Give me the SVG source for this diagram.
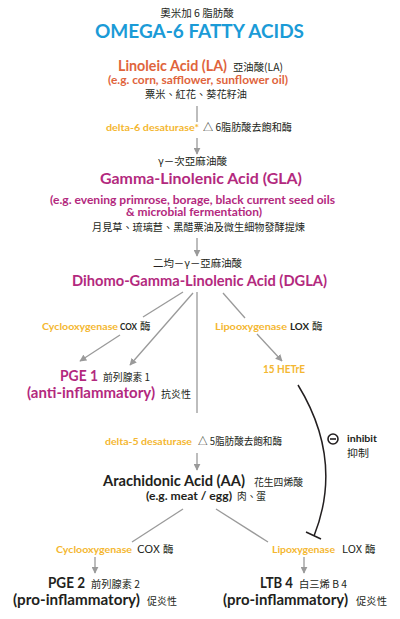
<svg xmlns="http://www.w3.org/2000/svg" width="400" height="619" viewBox="0 0 400 619">
<defs>
<style>
.en{font-family:Lato,"Open Sans",sans-serif;font-weight:700}
.cj{font-family:"Noto Sans CJK TC","Noto Sans",sans-serif;font-size:10.5px;fill:#231f20}
.blue{fill:#1b9bd7}.org{fill:#e0643c}.yel{fill:#f4b731}.mag{fill:#b3297e}.blk{fill:#231f20}
.ln{stroke:#9a9a9a;stroke-width:1.3;fill:none}
</style>
<marker id="ah" viewBox="0 0 10 10" refX="9" refY="5" markerWidth="7" markerHeight="7" markerUnits="userSpaceOnUse" orient="auto">
<path d="M0,0 L10,5 L0,10 z" fill="#9a9a9a"/>
</marker>
</defs>
<rect width="400" height="619" fill="#fff"/>

<g id="title">
<text class="cj" x="197" y="17" text-anchor="middle" font-size="11">奧米加 6 脂肪酸</text>
<text class="en blue" x="95" y="38" font-size="18.5" textLength="209" lengthAdjust="spacingAndGlyphs">OMEGA-6 FATTY ACIDS</text>
</g>

<g id="la">
<text class="en org" x="118" y="71" font-size="15" textLength="109" lengthAdjust="spacingAndGlyphs">Linoleic Acid (LA)</text>
<text class="cj" x="233" y="71" font-size="10.5" textLength="50" lengthAdjust="spacingAndGlyphs">亞油酸(LA)</text>
<text class="en org" x="108" y="84" font-size="11.5" textLength="180" lengthAdjust="spacingAndGlyphs">(e.g. corn, safflower, sunflower oil)</text>
<text class="cj" x="145" y="98" textLength="102" lengthAdjust="spacingAndGlyphs">粟米、紅花、葵花籽油</text>
</g>

<g id="d6">
<text class="en yel" x="106" y="131" font-size="10" textLength="93" lengthAdjust="spacingAndGlyphs">delta-6 desaturase*</text>
<text class="cj" x="203" y="131" textLength="89" lengthAdjust="spacingAndGlyphs">△ 6脂肪酸去飽和酶</text>
</g>

<g id="gla">
<text class="cj" x="158" y="165" textLength="69" lengthAdjust="spacingAndGlyphs">γ－次亞麻油酸</text>
<text class="en mag" x="100" y="184" font-size="16" textLength="202" lengthAdjust="spacingAndGlyphs">Gamma-Linolenic Acid (GLA)</text>
<text class="en mag" x="50" y="204" font-size="11.5" textLength="285" lengthAdjust="spacingAndGlyphs">(e.g. evening primrose, borage, black current seed oils</text>
<text class="en mag" x="126" y="216" font-size="11.5" textLength="136" lengthAdjust="spacingAndGlyphs">&amp; microbial fermentation)</text>
<text class="cj" x="92" y="231" textLength="213" lengthAdjust="spacingAndGlyphs">月見草、琉璃苣、黑醋粟油及微生細物發酵提煉</text>
</g>

<g id="dgla">
<text class="cj" x="153" y="267" textLength="89" lengthAdjust="spacingAndGlyphs">二均－γ－亞麻油酸</text>
<text class="en mag" x="72" y="286" font-size="16" textLength="255" lengthAdjust="spacingAndGlyphs">Dihomo-Gamma-Linolenic Acid (DGLA)</text>
</g>

<g id="cox1">
<text class="en yel" x="42" y="330" font-size="10" textLength="76" lengthAdjust="spacingAndGlyphs">Cyclooxygenase</text>
<text class="en blk" x="120" y="330" font-size="10" textLength="17" lengthAdjust="spacingAndGlyphs">COX</text>
<text class="cj" x="140" y="330">酶</text>
</g>

<g id="lox1">
<text class="en yel" x="215" y="330" font-size="10" textLength="72" lengthAdjust="spacingAndGlyphs">Lipooxygenase</text>
<text class="en blk" x="290" y="330" font-size="10" textLength="19" lengthAdjust="spacingAndGlyphs">LOX</text>
<text class="cj" x="312" y="330">酶</text>
</g>

<g id="pge1">
<text class="en mag" x="60" y="381" font-size="15.5" textLength="38" lengthAdjust="spacingAndGlyphs">PGE 1</text>
<text class="cj" x="103" y="381" font-size="10" textLength="47" lengthAdjust="spacingAndGlyphs">前列腺素 1</text>
<text class="en mag" x="27" y="398" font-size="15" textLength="128" lengthAdjust="spacingAndGlyphs">(anti-inflammatory)</text>
<text class="cj" x="161" y="398" font-size="10" textLength="30" lengthAdjust="spacingAndGlyphs">抗炎性</text>
</g>

<g id="hetre">
<text class="en yel" x="263" y="373" font-size="10.5" textLength="42" lengthAdjust="spacingAndGlyphs">15 HETrE</text>
</g>

<g id="d5">
<text class="en yel" x="105" y="445" font-size="10" textLength="87" lengthAdjust="spacingAndGlyphs">delta-5 desaturase</text>
<text class="cj" x="198" y="445" textLength="84" lengthAdjust="spacingAndGlyphs">△ 5脂肪酸去飽和酶</text>
</g>

<g id="inhibit">
<circle cx="333" cy="439" r="5" fill="none" stroke="#231f20" stroke-width="1.6"/>
<line x1="330" y1="439" x2="336" y2="439" stroke="#231f20" stroke-width="1.6"/>
<text class="en blk" x="347" y="442" font-size="10" textLength="30" lengthAdjust="spacingAndGlyphs">inhibit</text>
<text class="cj" x="347" y="457" textLength="22" lengthAdjust="spacingAndGlyphs">抑制</text>
</g>

<g id="aa">
<text class="en blk" x="103" y="486" font-size="15.5" textLength="142" lengthAdjust="spacingAndGlyphs">Arachidonic Acid (AA)</text>
<text class="cj" x="254" y="486" textLength="49" lengthAdjust="spacingAndGlyphs">花生四烯酸</text>
<text class="en blk" x="146" y="500" font-size="11.5" textLength="86" lengthAdjust="spacingAndGlyphs">(e.g. meat / egg)</text>
<text class="cj" x="237" y="500" textLength="29" lengthAdjust="spacingAndGlyphs">肉、蛋</text>
</g>

<g id="cox2">
<text class="en yel" x="56" y="553" font-size="10" textLength="76" lengthAdjust="spacingAndGlyphs">Cyclooxygenase</text>
<text class="cj" x="137" y="553" textLength="23" lengthAdjust="spacingAndGlyphs">COX</text>
<text class="cj" x="163" y="553">酶</text>
</g>

<g id="lox2">
<text class="en yel" x="272" y="553" font-size="10" textLength="63" lengthAdjust="spacingAndGlyphs">Lipoxygenase</text>
<text class="cj" x="342" y="553" textLength="20" lengthAdjust="spacingAndGlyphs">LOX</text>
<text class="cj" x="365" y="553">酶</text>
</g>

<g id="pge2">
<text class="en blk" x="48" y="588" font-size="15.5" textLength="37" lengthAdjust="spacingAndGlyphs">PGE 2</text>
<text class="cj" x="91" y="588" font-size="10" textLength="49" lengthAdjust="spacingAndGlyphs">前列腺素 2</text>
<text class="en blk" x="13" y="605" font-size="15" textLength="127" lengthAdjust="spacingAndGlyphs">(pro-inflammatory)</text>
<text class="cj" x="147" y="605" font-size="10" textLength="30" lengthAdjust="spacingAndGlyphs">促炎性</text>
</g>

<g id="ltb4">
<text class="en blk" x="260" y="588" font-size="15.5" textLength="33" lengthAdjust="spacingAndGlyphs">LTB 4</text>
<text class="cj" x="299" y="588" font-size="10" textLength="48" lengthAdjust="spacingAndGlyphs">白三烯 B 4</text>
<text class="en blk" x="223" y="605" font-size="15" textLength="125" lengthAdjust="spacingAndGlyphs">(pro-inflammatory)</text>
<text class="cj" x="356" y="605" font-size="10" textLength="31" lengthAdjust="spacingAndGlyphs">促炎性</text>
</g>

<g id="connectors">
<line class="ln" x1="197" y1="106" x2="197" y2="122"/>
<line class="ln" x1="197" y1="138" x2="197" y2="154" marker-end="url(#ah)"/>
<line class="ln" x1="197" y1="238" x2="197" y2="256" marker-end="url(#ah)"/>
<line class="ln" x1="183" y1="292" x2="143" y2="317"/>
<line class="ln" x1="120" y1="335" x2="80" y2="361" marker-end="url(#ah)"/>
<line class="ln" x1="193" y1="293" x2="130" y2="365" marker-end="url(#ah)"/>
<line class="ln" x1="197" y1="292" x2="197" y2="413"/>
<line class="ln" x1="223" y1="293" x2="245" y2="318"/>
<line class="ln" x1="257" y1="334" x2="282" y2="361" marker-end="url(#ah)"/>
<line class="ln" x1="197" y1="453" x2="197" y2="470" marker-end="url(#ah)"/>
<line class="ln" x1="183" y1="509" x2="132" y2="542"/>
<line class="ln" x1="216" y1="509" x2="268" y2="542"/>
<line class="ln" x1="95" y1="557" x2="95" y2="573" marker-end="url(#ah)"/>
<line class="ln" x1="304" y1="557" x2="304" y2="573" marker-end="url(#ah)"/>
<path d="M298,385 Q344,460 314,536" fill="none" stroke="#231f20" stroke-width="1.5"/>
<line x1="306" y1="532" x2="321" y2="539" stroke="#231f20" stroke-width="1.5"/>
</g>
</svg>
